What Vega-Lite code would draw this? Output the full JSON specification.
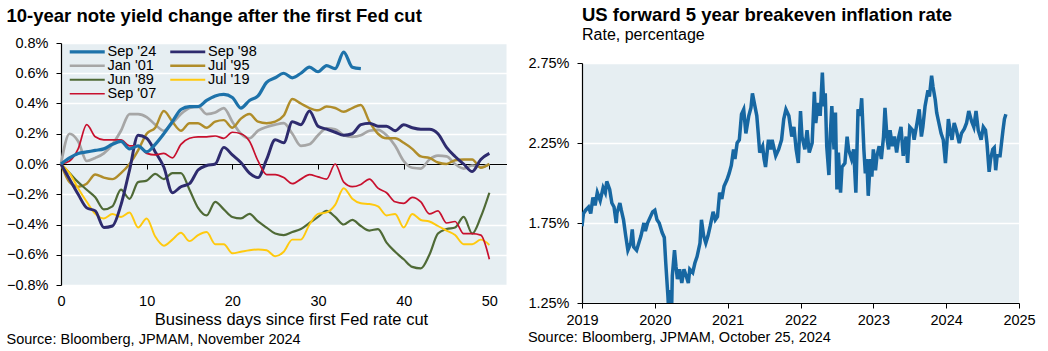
{
  "$schema": "https://vega.github.io/schema/vega-lite/v6.json",
  "background": "white",
  "padding": {"left": 6, "top": 6, "right": 5, "bottom": 0},
  "spacing": 20,
  "config": {
    "font": "Liberation Sans",
    "view": {"stroke": null, "fill": "#e6eef2"},
    "axis": {"labelFont": "Liberation Sans", "labelFontSize": 14.5, "labelColor": "black", "titleFont": "Liberation Sans", "titleColor": "black", "domainColor": "black", "tickColor": "black", "gridColor": "white", "gridWidth": 1.5, "labelOverlap": false, "labelFlush": false},
    "legend": {"orient": "none", "legendX": 19, "legendY": 1.5, "columns": 2, "direction": "horizontal", "symbolType": "M-3.5,0H3.5", "symbolSize": 100, "labelFont": "Liberation Sans", "labelFontSize": 14.5, "labelColor": "black", "rowPadding": -1.2, "columnPadding": 6.5, "labelOffset": 13, "padding": 0}
  },
  "hconcat": [
    {
      "title": {"text": "Source: Bloomberg, JPMAM, November 2024", "orient": "bottom", "anchor": "start", "fontSize": 14.5, "fontWeight": "normal", "color": "black", "offset": 5},
      "vconcat": [
        {
          "width": 445.5,
          "height": 242,
          "title": {"text": "10-year note yield change after the first Fed cut", "anchor": "start", "fontSize": 18.5, "fontWeight": "bold", "color": "black", "offset": 10},
          "data": {"values": [
            {"d": 0, "b": 0, "c": 0, "e": 0, "f": 0, "g": 0, "h": 0, "a": 0},
            {"d": 1, "b": -0.1, "c": 0.2, "e": -0.12, "f": -0.06, "g": -0.06, "h": 0.02, "a": 0.04},
            {"d": 2, "b": -0.2, "c": 0.15, "e": -0.15, "f": -0.12, "g": -0.16, "h": 0.1, "a": 0.07},
            {"d": 3, "b": -0.29, "c": 0.02, "e": -0.13, "f": -0.17, "g": -0.25, "h": 0.26, "a": 0.08},
            {"d": 4, "b": -0.31, "c": 0.04, "e": -0.07, "f": -0.22, "g": -0.33, "h": 0.18, "a": 0.09},
            {"d": 5, "b": -0.42, "c": 0.07, "e": -0.09, "f": -0.3, "g": -0.36, "h": 0.16, "a": 0.1},
            {"d": 6, "b": -0.41, "c": 0.13, "e": -0.1, "f": -0.28, "g": -0.33, "h": 0.16, "a": 0.13},
            {"d": 7, "b": -0.27, "c": 0.22, "e": -0.06, "f": -0.17, "g": -0.35, "h": 0.16, "a": 0.15},
            {"d": 8, "b": -0.04, "c": 0.33, "e": 0.0, "f": -0.23, "g": -0.32, "h": 0.12, "a": 0.1},
            {"d": 9, "b": 0.19, "c": 0.33, "e": 0.09, "f": -0.12, "g": -0.42, "h": 0.12, "a": 0.12},
            {"d": 10, "b": 0.17, "c": 0.31, "e": 0.2, "f": -0.11, "g": -0.36, "h": 0.07, "a": 0.08},
            {"d": 11, "b": 0.08, "c": 0.26, "e": 0.24, "f": -0.065, "g": -0.48, "h": 0.06, "a": 0.13},
            {"d": 12, "b": -0.02, "c": 0.22, "e": 0.35, "f": -0.1, "g": -0.54, "h": 0.07, "a": 0.2},
            {"d": 13, "b": -0.19, "c": 0.27, "e": 0.28, "f": -0.06, "g": -0.5, "h": 0.04, "a": 0.28},
            {"d": 14, "b": -0.15, "c": 0.33, "e": 0.22, "f": -0.06, "g": -0.455, "h": 0.13, "a": 0.36},
            {"d": 15, "b": -0.13, "c": 0.37, "e": 0.27, "f": -0.17, "g": -0.51, "h": 0.17, "a": 0.38},
            {"d": 16, "b": -0.04, "c": 0.38, "e": 0.27, "f": -0.29, "g": -0.47, "h": 0.18, "a": 0.38},
            {"d": 17, "b": -0.01, "c": 0.33, "e": 0.24, "f": -0.34, "g": -0.45, "h": 0.18, "a": 0.42},
            {"d": 18, "b": 0.0, "c": 0.34, "e": 0.28, "f": -0.25, "g": -0.53, "h": 0.185, "a": 0.45},
            {"d": 19, "b": 0.11, "c": 0.37, "e": 0.29, "f": -0.3, "g": -0.53, "h": 0.17, "a": 0.46},
            {"d": 20, "b": 0.06, "c": 0.28, "e": 0.24, "f": -0.35, "g": -0.59, "h": 0.21, "a": 0.44},
            {"d": 21, "b": 0.01, "c": 0.2, "e": 0.3, "f": -0.36, "g": -0.58, "h": 0.2, "a": 0.37},
            {"d": 22, "b": -0.06, "c": 0.17, "e": 0.33, "f": -0.33, "g": -0.57, "h": 0.15, "a": 0.42},
            {"d": 23, "b": -0.09, "c": 0.22, "e": 0.28, "f": -0.38, "g": -0.565, "h": 0.02, "a": 0.45},
            {"d": 24, "b": 0.03, "c": 0.245, "e": 0.27, "f": -0.42, "g": -0.57, "h": -0.07, "a": 0.54},
            {"d": 25, "b": 0.16, "c": 0.26, "e": 0.28, "f": -0.46, "g": -0.61, "h": -0.07, "a": 0.57},
            {"d": 26, "b": 0.14, "c": 0.27, "e": 0.32, "f": -0.47, "g": -0.58, "h": -0.09, "a": 0.6},
            {"d": 27, "b": 0.28, "c": 0.2, "e": 0.43, "f": -0.45, "g": -0.5, "h": -0.13, "a": 0.57},
            {"d": 28, "b": 0.26, "c": 0.12, "e": 0.4, "f": -0.43, "g": -0.5, "h": -0.1, "a": 0.6},
            {"d": 29, "b": 0.35, "c": 0.13, "e": 0.37, "f": -0.39, "g": -0.4, "h": -0.07, "a": 0.64},
            {"d": 30, "b": 0.25, "c": 0.19, "e": 0.355, "f": -0.35, "g": -0.33, "h": -0.085, "a": 0.61},
            {"d": 31, "b": 0.23, "c": 0.235, "e": 0.38, "f": -0.31, "g": -0.32, "h": -0.1, "a": 0.65},
            {"d": 32, "b": 0.21, "c": 0.23, "e": 0.37, "f": -0.35, "g": -0.27, "h": 0.0, "a": 0.63},
            {"d": 33, "b": 0.19, "c": 0.19, "e": 0.345, "f": -0.4, "g": -0.16, "h": -0.12, "a": 0.74},
            {"d": 34, "b": 0.2, "c": 0.18, "e": 0.37, "f": -0.37, "g": -0.23, "h": -0.15, "a": 0.64},
            {"d": 35, "b": 0.26, "c": 0.19, "e": 0.39, "f": -0.41, "g": -0.26, "h": -0.135, "a": 0.63},
            {"d": 36, "b": 0.27, "c": 0.22, "e": 0.28, "f": -0.44, "g": -0.265, "h": -0.1, "a": null},
            {"d": 37, "b": 0.25, "c": 0.225, "e": 0.2, "f": -0.43, "g": -0.28, "h": -0.16, "a": null},
            {"d": 38, "b": 0.25, "c": 0.19, "e": 0.17, "f": -0.52, "g": -0.34, "h": -0.19, "a": null},
            {"d": 39, "b": 0.22, "c": 0.12, "e": 0.17, "f": -0.58, "g": -0.33, "h": -0.25, "a": null},
            {"d": 40, "b": 0.26, "c": 0.02, "e": 0.14, "f": -0.63, "g": -0.42, "h": -0.26, "a": null},
            {"d": 41, "b": 0.24, "c": -0.025, "e": 0.1, "f": -0.68, "g": -0.33, "h": -0.22, "a": null},
            {"d": 42, "b": 0.23, "c": -0.03, "e": 0.05, "f": -0.69, "g": -0.37, "h": -0.25, "a": null},
            {"d": 43, "b": 0.23, "c": 0.03, "e": 0.04, "f": -0.6, "g": -0.38, "h": -0.33, "a": null},
            {"d": 44, "b": 0.2, "c": 0.055, "e": 0.01, "f": -0.46, "g": -0.41, "h": -0.31, "a": null},
            {"d": 45, "b": 0.11, "c": 0.05, "e": 0.0, "f": -0.43, "g": -0.44, "h": -0.39, "a": null},
            {"d": 46, "b": 0.05, "c": 0.0, "e": 0.025, "f": -0.42, "g": -0.47, "h": -0.38, "a": null},
            {"d": 47, "b": 0.0, "c": -0.03, "e": 0.03, "f": -0.35, "g": -0.53, "h": -0.46, "a": null},
            {"d": 48, "b": -0.05, "c": -0.01, "e": 0.03, "f": -0.46, "g": -0.53, "h": -0.46, "a": null},
            {"d": 49, "b": 0.03, "c": -0.02, "e": -0.025, "f": -0.35, "g": -0.5, "h": -0.47, "a": null},
            {"d": 50, "b": 0.07, "c": 0.0, "e": 0.0, "f": -0.19, "g": -0.535, "h": -0.63, "a": null}
          ]},
          "transform": [
            {"fold": ["c", "e", "f", "g", "b", "h", "a"], "as": ["k", "v"]},
            {"lookup": "k", "from": {"data": {"values": [
              {"k": "a", "series": "Sep '24"}, {"k": "b", "series": "Sep '98"}, {"k": "c", "series": "Jan '01"}, {"k": "e", "series": "Jul '95"},
              {"k": "f", "series": "Jun '89"}, {"k": "g", "series": "Jul '19"}, {"k": "h", "series": "Sep '07"}
            ]}, "key": "k", "fields": ["series"]}}
          ],
          "mark": {"type": "line", "interpolate": "monotone"},
          "encoding": {
            "x": {"field": "d", "type": "quantitative", "scale": {"domain": [0, 52], "nice": false},
              "axis": {"values": [0, 10, 20, 30, 40, 50], "offset": -121, "grid": false, "domainWidth": 1.2, "tickSize": 5, "labelPadding": 125, "title": "Business days since first Fed rate cut", "titleFontSize": 16.5, "titleFontWeight": "normal", "titlePadding": 4, "titleX": 230}},
            "y": {"field": "v", "type": "quantitative", "scale": {"domain": [-0.8, 0.8], "nice": false},
              "axis": {"values": [-0.8, -0.6, -0.4, -0.2, 0, 0.2, 0.4, 0.6, 0.8], "labelExpr": "format(datum.value, '.1f') + '%'", "grid": true, "domainWidth": 1.2, "tickSize": 5, "labelPadding": 8, "title": null}},
            "color": {"field": "series", "type": "nominal",
              "scale": {"domain": ["Sep '24", "Sep '98", "Jan '01", "Jul '95", "Jun '89", "Jul '19", "Sep '07"], "range": ["#1d72aa", "#2e2b6e", "#a6a6a6", "#b08d2a", "#4f6a36", "#ffc90e", "#c8102e"]},
              "legend": {"title": null}},
            "strokeWidth": {"field": "series", "type": "nominal",
              "scale": {"domain": ["Sep '24", "Sep '98", "Jan '01", "Jul '95", "Jun '89", "Jul '19", "Sep '07"], "range": [3.2, 1.7, 1.7, 1.7, 1.7, 1.7, 1.7]},
              "legend": {"title": null}}
          }
        }
      ]
    },
    {
      "title": {"text": "Source: Bloomberg, JPMAM, October 25, 2024", "orient": "bottom", "anchor": "start", "fontSize": 14.5, "fontWeight": "normal", "color": "black", "offset": 4},
      "spacing": 0,
      "vconcat": [
        {
          "width": 437,
          "height": 12,
          "view": {"fill": null, "stroke": null},
          "title": {"text": "US forward 5 year breakeven inflation rate", "subtitle": "Rate, percentage", "anchor": "start", "fontSize": 18.5, "fontWeight": "bold", "color": "black", "subtitleFontSize": 16, "subtitleColor": "black", "subtitleFont": "Liberation Sans", "subtitlePadding": 2.5, "offset": 0},
          "data": {"values": []},
          "mark": {"type": "point"},
          "encoding": {}
        },
        {
          "width": 437,
          "height": 240,
          "data": {"values": [
            {"t": 2019.00, "v": 1.73}, {"t": 2019.02, "v": 1.81}, {"t": 2019.05, "v": 1.83}, {"t": 2019.09, "v": 1.85}, {"t": 2019.12, "v": 1.81},
            {"t": 2019.15, "v": 1.91}, {"t": 2019.18, "v": 1.86}, {"t": 2019.21, "v": 1.94}, {"t": 2019.25, "v": 1.89}, {"t": 2019.29, "v": 1.97},
            {"t": 2019.32, "v": 1.94}, {"t": 2019.34, "v": 2.01}, {"t": 2019.38, "v": 1.96}, {"t": 2019.41, "v": 1.875}, {"t": 2019.44, "v": 1.85},
            {"t": 2019.47, "v": 1.75}, {"t": 2019.48, "v": 1.81}, {"t": 2019.52, "v": 1.875}, {"t": 2019.54, "v": 1.83}, {"t": 2019.57, "v": 1.77},
            {"t": 2019.60, "v": 1.67}, {"t": 2019.63, "v": 1.58}, {"t": 2019.67, "v": 1.625}, {"t": 2019.69, "v": 1.71}, {"t": 2019.71, "v": 1.6},
            {"t": 2019.75, "v": 1.58}, {"t": 2019.78, "v": 1.625}, {"t": 2019.81, "v": 1.67}, {"t": 2019.85, "v": 1.75}, {"t": 2019.87, "v": 1.7},
            {"t": 2019.90, "v": 1.75}, {"t": 2019.94, "v": 1.79}, {"t": 2019.97, "v": 1.82}, {"t": 2020.00, "v": 1.83}, {"t": 2020.03, "v": 1.77},
            {"t": 2020.06, "v": 1.75}, {"t": 2020.10, "v": 1.69}, {"t": 2020.13, "v": 1.66}, {"t": 2020.15, "v": 1.5}, {"t": 2020.18, "v": 1.29},
            {"t": 2020.19, "v": 1.2}, {"t": 2020.21, "v": 1.33}, {"t": 2020.23, "v": 1.2}, {"t": 2020.24, "v": 1.42}, {"t": 2020.27, "v": 1.58},
            {"t": 2020.29, "v": 1.48}, {"t": 2020.31, "v": 1.4}, {"t": 2020.34, "v": 1.46}, {"t": 2020.37, "v": 1.375}, {"t": 2020.40, "v": 1.46},
            {"t": 2020.43, "v": 1.42}, {"t": 2020.46, "v": 1.375}, {"t": 2020.48, "v": 1.46}, {"t": 2020.52, "v": 1.44}, {"t": 2020.55, "v": 1.5},
            {"t": 2020.58, "v": 1.54}, {"t": 2020.62, "v": 1.625}, {"t": 2020.64, "v": 1.77}, {"t": 2020.67, "v": 1.67}, {"t": 2020.70, "v": 1.625},
            {"t": 2020.73, "v": 1.67}, {"t": 2020.76, "v": 1.73}, {"t": 2020.80, "v": 1.82}, {"t": 2020.83, "v": 1.77}, {"t": 2020.86, "v": 1.79},
            {"t": 2020.89, "v": 1.94}, {"t": 2020.92, "v": 1.9}, {"t": 2020.95, "v": 1.98}, {"t": 2020.99, "v": 2.02}, {"t": 2021.02, "v": 2.06},
            {"t": 2021.05, "v": 2.11}, {"t": 2021.08, "v": 2.21}, {"t": 2021.10, "v": 2.15}, {"t": 2021.13, "v": 2.25}, {"t": 2021.16, "v": 2.27},
            {"t": 2021.19, "v": 2.43}, {"t": 2021.22, "v": 2.46}, {"t": 2021.25, "v": 2.31}, {"t": 2021.29, "v": 2.42}, {"t": 2021.32, "v": 2.47},
            {"t": 2021.34, "v": 2.56}, {"t": 2021.37, "v": 2.49}, {"t": 2021.40, "v": 2.42}, {"t": 2021.42, "v": 2.31}, {"t": 2021.44, "v": 2.19},
            {"t": 2021.48, "v": 2.23}, {"t": 2021.50, "v": 2.15}, {"t": 2021.52, "v": 2.1}, {"t": 2021.56, "v": 2.27}, {"t": 2021.59, "v": 2.21},
            {"t": 2021.61, "v": 2.27}, {"t": 2021.66, "v": 2.17}, {"t": 2021.70, "v": 2.21}, {"t": 2021.74, "v": 2.27}, {"t": 2021.77, "v": 2.4},
            {"t": 2021.80, "v": 2.46}, {"t": 2021.84, "v": 2.42}, {"t": 2021.88, "v": 2.29}, {"t": 2021.91, "v": 2.35}, {"t": 2021.94, "v": 2.21},
            {"t": 2021.97, "v": 2.125}, {"t": 2022.00, "v": 2.45}, {"t": 2022.02, "v": 2.29}, {"t": 2022.06, "v": 2.21}, {"t": 2022.09, "v": 2.33},
            {"t": 2022.12, "v": 2.19}, {"t": 2022.16, "v": 2.25}, {"t": 2022.19, "v": 2.57}, {"t": 2022.21, "v": 2.375}, {"t": 2022.24, "v": 2.5},
            {"t": 2022.27, "v": 2.42}, {"t": 2022.30, "v": 2.69}, {"t": 2022.32, "v": 2.48}, {"t": 2022.34, "v": 2.56}, {"t": 2022.36, "v": 2.23},
            {"t": 2022.39, "v": 2.05}, {"t": 2022.41, "v": 2.31}, {"t": 2022.43, "v": 2.48}, {"t": 2022.46, "v": 2.21}, {"t": 2022.48, "v": 2.44},
            {"t": 2022.50, "v": 1.96}, {"t": 2022.52, "v": 2.19}, {"t": 2022.55, "v": 1.94}, {"t": 2022.57, "v": 2.1}, {"t": 2022.61, "v": 2.125},
            {"t": 2022.64, "v": 2.29}, {"t": 2022.66, "v": 2.21}, {"t": 2022.70, "v": 2.15}, {"t": 2022.73, "v": 2.21}, {"t": 2022.76, "v": 1.94},
            {"t": 2022.79, "v": 2.46}, {"t": 2022.82, "v": 2.42}, {"t": 2022.84, "v": 2.53}, {"t": 2022.87, "v": 2.21}, {"t": 2022.89, "v": 2.06},
            {"t": 2022.91, "v": 2.15}, {"t": 2022.93, "v": 1.92}, {"t": 2022.96, "v": 2.15}, {"t": 2022.98, "v": 2.04}, {"t": 2023.00, "v": 2.21},
            {"t": 2023.03, "v": 2.08}, {"t": 2023.05, "v": 2.17}, {"t": 2023.08, "v": 2.23}, {"t": 2023.11, "v": 2.15}, {"t": 2023.14, "v": 2.29},
            {"t": 2023.16, "v": 2.47}, {"t": 2023.19, "v": 2.27}, {"t": 2023.21, "v": 2.21}, {"t": 2023.23, "v": 2.33}, {"t": 2023.26, "v": 2.23},
            {"t": 2023.29, "v": 2.29}, {"t": 2023.32, "v": 2.19}, {"t": 2023.35, "v": 2.29}, {"t": 2023.38, "v": 2.35}, {"t": 2023.41, "v": 2.17},
            {"t": 2023.45, "v": 2.29}, {"t": 2023.47, "v": 2.125}, {"t": 2023.50, "v": 2.35}, {"t": 2023.54, "v": 2.33}, {"t": 2023.56, "v": 2.27},
            {"t": 2023.60, "v": 2.375}, {"t": 2023.63, "v": 2.46}, {"t": 2023.66, "v": 2.29}, {"t": 2023.68, "v": 2.35}, {"t": 2023.71, "v": 2.48},
            {"t": 2023.75, "v": 2.58}, {"t": 2023.77, "v": 2.54}, {"t": 2023.80, "v": 2.67}, {"t": 2023.82, "v": 2.6}, {"t": 2023.85, "v": 2.52},
            {"t": 2023.87, "v": 2.44}, {"t": 2023.90, "v": 2.375}, {"t": 2023.93, "v": 2.31}, {"t": 2023.96, "v": 2.27}, {"t": 2023.99, "v": 2.125},
            {"t": 2024.01, "v": 2.25}, {"t": 2024.03, "v": 2.4}, {"t": 2024.06, "v": 2.31}, {"t": 2024.08, "v": 2.27}, {"t": 2024.11, "v": 2.375},
            {"t": 2024.14, "v": 2.33}, {"t": 2024.18, "v": 2.25}, {"t": 2024.21, "v": 2.31}, {"t": 2024.25, "v": 2.34}, {"t": 2024.28, "v": 2.375},
            {"t": 2024.31, "v": 2.45}, {"t": 2024.35, "v": 2.385}, {"t": 2024.38, "v": 2.35}, {"t": 2024.41, "v": 2.45}, {"t": 2024.44, "v": 2.33},
            {"t": 2024.48, "v": 2.27}, {"t": 2024.51, "v": 2.35}, {"t": 2024.54, "v": 2.33}, {"t": 2024.56, "v": 2.25}, {"t": 2024.59, "v": 2.07},
            {"t": 2024.61, "v": 2.15}, {"t": 2024.64, "v": 2.21}, {"t": 2024.66, "v": 2.22}, {"t": 2024.68, "v": 2.08}, {"t": 2024.70, "v": 2.17},
            {"t": 2024.74, "v": 2.17}, {"t": 2024.76, "v": 2.25}, {"t": 2024.78, "v": 2.33}, {"t": 2024.80, "v": 2.4}, {"t": 2024.82, "v": 2.43}
          ]},
          "mark": {"type": "line", "color": "#1767a2", "strokeWidth": 3.5, "clip": true},
          "encoding": {
            "x": {"field": "t", "type": "quantitative", "scale": {"domain": [2019, 2025], "nice": false, "zero": false},
              "axis": {"values": [2019, 2020, 2021, 2022, 2023, 2024, 2025], "format": "d", "grid": false, "domainWidth": 1.2, "tickSize": 5, "labelPadding": 5, "title": null}},
            "y": {"field": "v", "type": "quantitative", "scale": {"domain": [1.25, 2.75], "nice": false, "zero": false},
              "axis": {"values": [1.25, 1.75, 2.25, 2.75], "labelExpr": "format(datum.value, '.2f') + '%'", "grid": true, "domainWidth": 1.2, "tickSize": 5, "labelPadding": 8, "title": null}}
          }
        }
      ]
    }
  ]
}
